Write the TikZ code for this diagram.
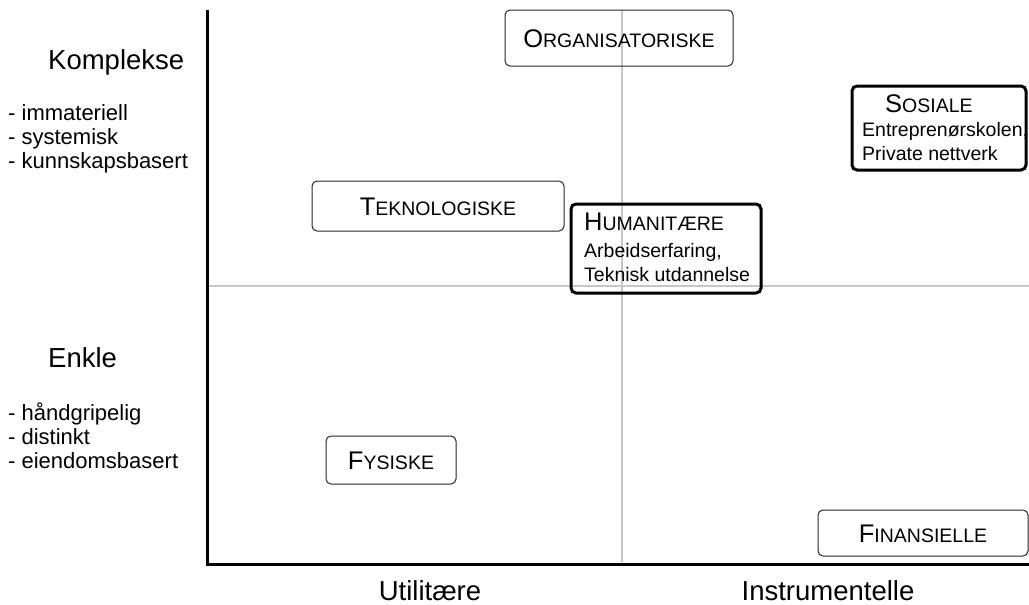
\documentclass[tikz,border=0pt]{standalone}
\usepackage{fontspec}
\setmainfont{Liberation Sans}
% two-size capitals: a large initial followed by smaller capitals
\newcommand\capword[2]{{\fontsize{25.5}{30}\selectfont #1}{\fontsize{19.5}{23}\selectfont #2}}
\newcommand\bodytext{\fontsize{19.5}{23}\selectfont}
\newcommand\listtext{\fontsize{22}{26}\selectfont}
\newcommand\headtext{\fontsize{27.5}{32}\selectfont}
\begin{document}
\begin{tikzpicture}[x=1pt,y=-1pt,
  guide/.style={draw=black!22, line width=1.2pt},
  axisline/.style={draw=black, line width=3pt},
  plainbox/.style={draw=black!85, line width=1pt, rounded corners=5pt,
    inner sep=0pt, text height=18.3pt, text depth=0pt},
  boldbox/.style={draw=black, line width=3pt, rounded corners=5pt, inner sep=0pt},
  txt/.style={inner sep=0pt, anchor=base west},
  head/.style={inner sep=0pt, anchor=base west, font=\headtext},
  item/.style={inner sep=0pt, anchor=base west, font=\listtext},
  foot/.style={inner sep=0pt, anchor=base, font=\headtext}]
\useasboundingbox (0,0) rectangle (1029,605);

% quadrant guides
\coordinate (vtop) at (622,10);
\coordinate (vbot) at (622,562);
\coordinate (hleft) at (207,286);
\coordinate (hright) at (1029,286);
\draw[guide] (vtop) -- (vbot);
\draw[guide] (hleft) -- (hright);

% axes
\coordinate (ytop) at (207,10);
\coordinate (origin) at (207,564);
\coordinate (xend) at (1029,564);
\draw[axisline] (ytop) -- (origin) -- (xend);

% single-line categories
\node[plainbox, minimum width=228, minimum height=56] (org) at (619,38) {\capword{O}{RGANISATORISKE}};
\node[plainbox, minimum width=252, minimum height=50] (tek) at (438,206) {\capword{T}{EKNOLOGISKE}};
\node[plainbox, minimum width=130, minimum height=48] (fys) at (391,460) {\capword{F}{YSISKE}};
\node[plainbox, minimum width=210, minimum height=46] (fin) at (923,533) {\capword{F}{INANSIELLE}};

% categories with examples
\node[boldbox, minimum width=174, minimum height=84] (sos) at (939,128) {};
\node[txt] (sosH) at (885,112) {\capword{S}{OSIALE}};
\node[txt, font=\bodytext] (sos1) at (862,136) {Entreprenørskolen,};
\node[txt, font=\bodytext] (sos2) at (862,160) {Private nettverk};

\node[boldbox, minimum width=190, minimum height=89] (hum) at (666,248.5) {};
\node[txt] (humH) at (584,230) {\capword{H}{UMANITÆRE}};
\node[txt, font=\bodytext] (hum1) at (584,257) {Arbeidserfaring,};
\node[txt, font=\bodytext] (hum2) at (584,281) {Teknisk utdannelse};

% vertical axis description
\node[head] (kompl) at (48,69) {Komplekse};
\node[item] (k1) at (8,120) {- immateriell};
\node[item] (k2) at (8,144) {- systemisk};
\node[item] (k3) at (8,168) {- kunnskapsbasert};

\node[head] (enkle) at (48,367) {Enkle};
\node[item] (e1) at (8,420) {- håndgripelig};
\node[item] (e2) at (8,444) {- distinkt};
\node[item] (e3) at (8,468) {- eiendomsbasert};

% horizontal axis description
\node[foot] (util) at (430,600) {Utilitære};
\node[foot] (instr) at (828,600) {Instrumentelle};
\end{tikzpicture}
\end{document}
